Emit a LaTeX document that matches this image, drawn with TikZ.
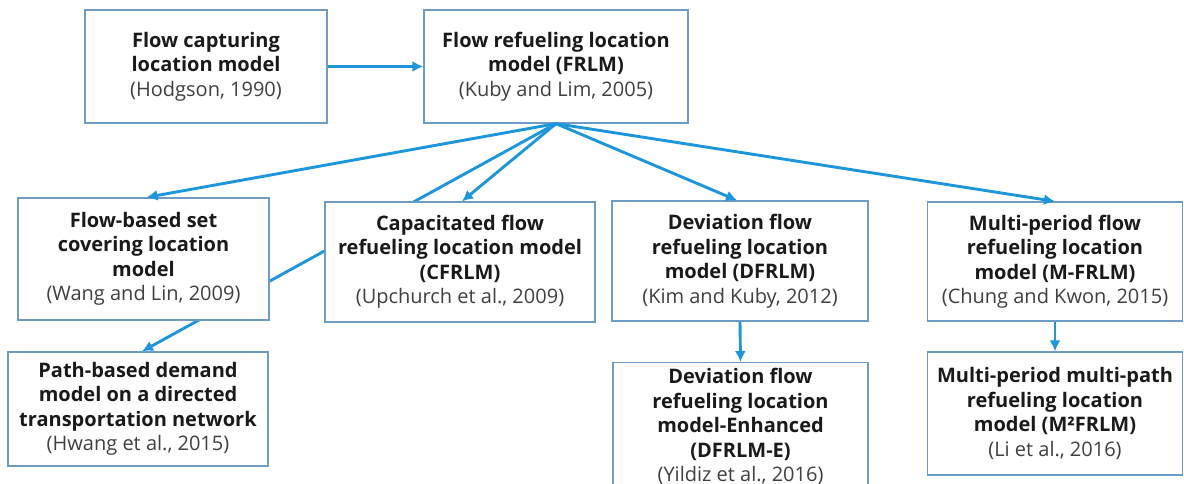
\documentclass[tikz,border=0pt]{standalone}
\usepackage{fontspec}
\setmainfont{Open Sans}
\usetikzlibrary{arrows.meta,backgrounds}
\definecolor{arrowblue}{HTML}{1E96DC}
\definecolor{boxblue}{HTML}{6E9CC6}
\definecolor{txt}{HTML}{1A1A1A}
\definecolor{citecol}{HTML}{404040}
\tikzset{
  box/.style={draw=boxblue, line width=1.3pt, fill=white, align=center, inner sep=0pt,
    font=\fontsize{20}{24.5}\selectfont\bfseries, text=txt},
  conn/.style={draw=arrowblue, line width=2.9pt, -{Latex[length=11pt,width=11pt]}},
}
\newcommand{\ct}[1]{{\mdseries\color{citecol}#1}}
\begin{document}
\begin{tikzpicture}[x=1pt,y=-1pt]
\begin{scope}[on background layer]
  \fill[white] (0,0) rectangle (1184,484);
\end{scope}
\clip (0,0) rectangle (1184,484);
\useasboundingbox (0,0) rectangle (1184,484);

\node[box, minimum width=242pt, minimum height=113pt] (fclm) at (206,66.5)
  {Flow capturing\\location model\\\ct{(Hodgson, 1990)}};
\node[box, minimum width=264pt, minimum height=113pt] (frlm) at (556,66.5)
  {Flow refueling location\\model (FRLM)\\\ct{(Kuby and Lim, 2005)}};

\node[box, minimum width=251pt, minimum height=122pt] (fbsc) at (143.5,259)
  {Flow-based set\\covering location\\model\\\ct{(Wang and Lin, 2009)}};
\node[box, minimum width=270pt, minimum height=120pt] (cfrlm) at (460,262)
  {Capacitated flow\\refueling location model\\(CFRLM)\\\ct{(Upchurch et al., 2009)}};
\node[box, minimum width=256pt, minimum height=120pt] (dfrlm) at (740,261)
  {Deviation flow\\refueling location\\model (DFRLM)\\\ct{(Kim and Kuby, 2012)}};
\node[box, minimum width=255pt, minimum height=119pt] (mfrlm) at (1055,261.5)
  {Multi-period flow\\refueling location\\model (M-FRLM)\\\ct{(Chung and Kwon, 2015)}};

\node[box, minimum width=260pt, minimum height=114pt] (path) at (138,409)
  {Path-based demand\\model on a directed\\transportation network\\\ct{(Hwang et al., 2015)}};
\node[box, minimum width=255pt, minimum height=128pt, anchor=north] (dfrlme) at (740.5,362)
  {Deviation flow\\refueling location\\model-Enhanced\\(DFRLM-E)\\\ct{(Yildiz et al., 2016)}};
\node[box, minimum width=255pt, minimum height=123pt] (m2frlm) at (1055,413.5)
  {Multi-period multi-path\\refueling location\\model (M²FRLM)\\\ct{(Li et al., 2016)}};

\begin{scope}[on background layer]
  \draw[conn] (frlm.south) -- ([xshift=4pt]path.north);
\end{scope}
\draw[conn] (fclm.east) -- (frlm.west);
\draw[conn] (frlm.south) -- ([xshift=3pt]fbsc.north);
\draw[conn] (frlm.south) -- ([xshift=2pt]cfrlm.north);
\draw[conn] (frlm.south) -- ([xshift=-3pt]dfrlm.north);
\draw[conn] (frlm.south) -- (mfrlm.north);
\draw[conn] (dfrlm.south) -- (dfrlme.north);
\draw[conn] (mfrlm.south) -- (m2frlm.north);
\end{tikzpicture}
\end{document}
